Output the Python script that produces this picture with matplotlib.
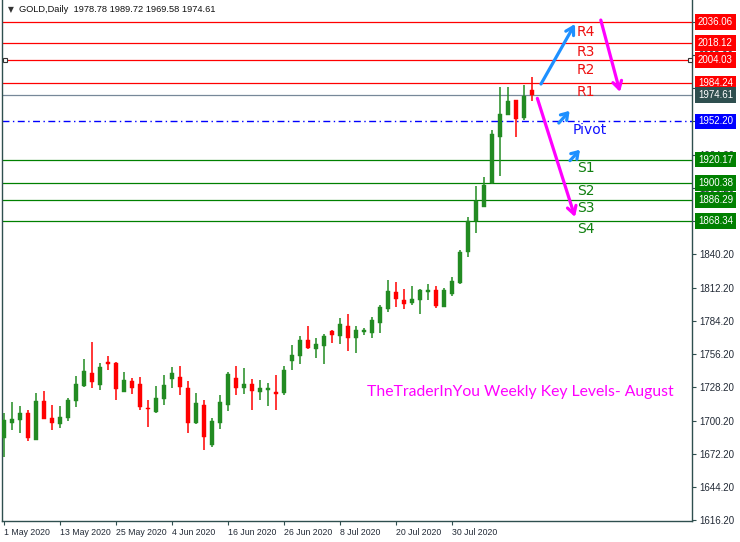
import matplotlib
matplotlib.use("Agg")
import matplotlib.pyplot as plt
import matplotlib.transforms as mtransforms
import numpy as np

# ---------------- data ----------------
opens = [1685.7, 1698.4, 1700.6, 1706.5, 1684.0, 1716.6, 1702.3, 1697.5, 1702.6, 1716.9,
         1729.5, 1740.2, 1730.4, 1749.5, 1748.7, 1724.5, 1733.5, 1731.0, 1711.0, 1707.6,
         1718.3, 1735.2, 1736.8, 1727.6, 1698.1, 1713.3, 1679.5, 1698.1, 1713.3, 1736.0,
         1727.6, 1730.9, 1724.5, 1726.2, 1724.2, 1723.6, 1750.6, 1754.8, 1768.0, 1760.7,
         1763.2, 1775.6, 1771.7, 1779.8, 1770.0, 1775.1, 1774.2, 1782.6, 1794.4, 1808.5,
         1801.7, 1799.5, 1802.0, 1808.8, 1810.2, 1796.1, 1807.1, 1816.4, 1842.0, 1868.0,
         1880.1, 1900.1, 1939.4, 1957.7, 1970.3, 1955.4, 1978.78]
highs = [1706.8, 1715.8, 1712.4, 1709.0, 1723.4, 1725.0, 1713.2, 1712.4, 1719.2, 1737.7,
         1752.0, 1766.1, 1748.7, 1754.5, 1749.5, 1741.1, 1736.0, 1736.9, 1717.5, 1729.3,
         1738.5, 1745.3, 1746.1, 1733.5, 1723.4, 1717.5, 1702.3, 1721.7, 1741.1, 1746.1,
         1744.4, 1735.2, 1734.3, 1731.8, 1738.5, 1746.1, 1763.8, 1771.4, 1779.8, 1769.7,
         1773.1, 1776.5, 1786.6, 1789.9, 1779.8, 1778.1, 1787.4, 1797.5, 1818.6, 1816.9,
         1811.0, 1813.5, 1811.0, 1815.2, 1813.5, 1811.9, 1821.1, 1843.9, 1872.0, 1898.0,
         1905.7, 1945.0, 1981.0, 1981.0, 1970.3, 1983.0, 1989.72]
lows = [1669.7, 1692.2, 1689.9, 1683.2, 1684.0, 1701.7, 1692.5, 1694.1, 1700.0, 1711.9,
        1728.7, 1727.9, 1726.2, 1743.0, 1717.7, 1724.5, 1722.8, 1709.3, 1695.0, 1706.8,
        1713.5, 1727.6, 1722.0, 1689.7, 1697.3, 1675.6, 1677.9, 1693.0, 1708.5, 1722.0,
        1722.8, 1709.0, 1717.7, 1712.7, 1709.3, 1722.0, 1743.0, 1748.1, 1760.5, 1753.1,
        1748.1, 1765.8, 1764.9, 1759.0, 1757.4, 1772.5, 1770.0, 1774.2, 1791.9, 1796.1,
        1794.4, 1797.8, 1790.2, 1802.0, 1795.3, 1796.1, 1805.4, 1815.5, 1838.0, 1858.0,
        1880.1, 1899.2, 1906.5, 1957.7, 1938.9, 1953.7, 1969.58]
closes = [1700.6, 1701.5, 1706.5, 1685.7, 1716.6, 1701.7, 1698.4, 1703.1, 1717.4, 1730.9,
          1741.9, 1732.9, 1745.3, 1747.8, 1727.0, 1734.3, 1727.9, 1711.9, 1710.2, 1719.2,
          1730.1, 1740.2, 1728.7, 1698.1, 1714.9, 1686.3, 1699.8, 1715.8, 1739.4, 1727.9,
          1731.0, 1725.3, 1727.6, 1727.6, 1722.8, 1742.8, 1755.4, 1768.0, 1761.6, 1764.7,
          1771.4, 1772.5, 1781.5, 1770.0, 1776.5, 1776.5, 1784.9, 1795.8, 1809.3, 1802.9,
          1798.7, 1802.6, 1810.2, 1810.2, 1797.0, 1810.2, 1817.8, 1842.2, 1868.0, 1885.0,
          1899.0, 1941.4, 1958.5, 1969.5, 1954.6, 1973.7, 1974.61]

date_labels = ['1 May 2020', '13 May 2020', '25 May 2020', '4 Jun 2020', '16 Jun 2020',
               '26 Jun 2020', '8 Jul 2020', '20 Jul 2020', '30 Jul 2020']
date_label_bars = [0, 7, 14, 21, 28, 35, 42, 49, 56]

level_names = ['R4', 'R3', 'R2', 'R1', 'Pivot', 'S1', 'S2', 'S3', 'S4']
level_values = [2036.06, 2018.12, 2004.03, 1984.24, 1952.20, 1920.17, 1900.38, 1886.29, 1868.34]
bid_price = 1974.61

y_ticks = [1616.2 + 28 * k for k in range(16)]
header = "GOLD,Daily  1978.78 1989.72 1969.58 1974.61"
caption = "TheTraderInYou Weekly Key Levels- August"

# ---------------- style ----------------
GREEN = '#228b22'
RED = '#ff0000'
FRAME = '#2f4f4f'
LVL_COL = {'R': '#ff0000', 'P': '#0000ff', 'S': '#008000'}
TXT_COL = {'R': '#ee1111', 'P': '#1010ff', 'S': '#108010'}
FONT = 'Liberation Sans'

W, H = 740, 542
fig = plt.figure(figsize=(W / 100, H / 100), dpi=100)
fig.patch.set_facecolor('white')
ax = fig.add_axes([2 / W, (H - 521) / H, 690 / W, 521 / H])
ax.set_facecolor('white')
ax.set_xlim(-0.25, 86)
ax.set_ylim(1615.5, 2054.6)

for s in ['left', 'right', 'bottom']:
    ax.spines[s].set_color(FRAME)
    ax.spines[s].set_linewidth(1.0)
ax.spines['top'].set_visible(False)

# level lines
for name, val in zip(level_names, level_values):
    key = name[0]
    if name == 'Pivot':
        ax.axhline(val, color=LVL_COL['P'], lw=1.0, linestyle=(0, (5, 2.5, 1, 2.5)), zorder=1)
    else:
        ax.axhline(val, color=LVL_COL[key], lw=0.9, zorder=1)
ax.axhline(bid_price, color='#778899', lw=0.9, zorder=1)

# small selection squares on R2 line
ax.plot([0.1, 85.8], [level_values[2]] * 2, linestyle='none', marker='s', ms=3.5,
        mfc='white', mec='#333333', mew=0.8, zorder=3, clip_on=False)

# candles
idx = np.arange(len(opens))
o = np.array(opens); h = np.array(highs); l = np.array(lows); c = np.array(closes)
cols = [GREEN if cc >= oo else RED for oo, cc in zip(o, c)]
ax.vlines(idx, l, h, colors=cols, lw=1.1, zorder=4)
body_bot = np.minimum(o, c)
body_h = np.maximum(np.abs(c - o), 0.9)
ax.bar(idx, body_h, bottom=body_bot, width=0.62, color=cols, edgecolor=cols, lw=0.3, zorder=5)

# level names text
name_y = [2027.6, 2010.8, 1995.6, 1977.1, 1945.0, 1913.0, 1893.6, 1879.3, 1861.6]
for name, yy in zip(level_names, name_y):
    key = 'P' if name == 'Pivot' else name[0]
    xx = 71.1 if name == 'Pivot' else 71.6
    ax.text(xx, yy, name, color=TXT_COL[key], fontsize=10, family='DejaVu Sans',
            va='center', ha='left', zorder=6)

# arrows
def arrow(tail, tip, color, lw=2.3, hl=0.55, hw=0.32):
    ax.annotate('', xy=tip, xytext=tail,
                arrowprops=dict(arrowstyle=f'->,head_length={hl},head_width={hw}',
                                color=color, lw=lw, shrinkA=0, shrinkB=0),
                zorder=7)

BLUE_A = '#1e90ff'
MAG = '#ff00ff'
arrow((67.125, 1983.8), (71.375, 2034.4), BLUE_A)
arrow((69.35, 1950.9), (70.7, 1961.2), BLUE_A, hl=0.45, hw=0.3)
arrow((70.75, 1919.2), (72.0, 1928.4), BLUE_A, hl=0.45, hw=0.3)
arrow((66.67, 1971.7), (71.375, 1871.7), MAG)
arrow((74.6, 2037.7), (77.0, 1977.1), MAG)

# caption
ax.text(45.4, 1724.2, caption, color=MAG, fontsize=11.3, family='Lato', va='center', ha='left', zorder=6)

# y axis on right
ax.yaxis.tick_right()
ax.set_yticks(y_ticks)
ax.set_yticklabels([f'{v:.2f}' for v in y_ticks])
ax.tick_params(axis='y', length=3, width=0.8, color=FRAME, pad=2, labelsize=7,
               labelcolor='#222a36', labelfontfamily=FONT)

# x axis
ax.set_xticks(date_label_bars)
ax.set_xticklabels(date_labels)
ax.tick_params(axis='x', length=3, width=0.8, color=FRAME, pad=2, labelsize=6.3,
               labelcolor='#222a36', labelfontfamily=FONT)
for t in ax.get_xticklabels():
    t.set_ha('left')

# level value boxes on right
trans = mtransforms.blended_transform_factory(ax.transAxes, ax.transData)
for name, val in zip(level_names, level_values):
    key = 'P' if name == 'Pivot' else name[0]
    fc = LVL_COL[key]
    ax.text(1.0085, val, f'{val:.2f}', transform=trans, color='white', fontsize=7,
            family=FONT, va='center', ha='left', clip_on=False, zorder=10,
            bbox=dict(boxstyle='square,pad=0.3', fc=fc, ec='none'))
ax.text(1.0085, bid_price, f'{bid_price:.2f}', transform=trans, color='white', fontsize=7,
        family=FONT, va='center', ha='left', clip_on=False, zorder=10,
        bbox=dict(boxstyle='square,pad=0.3', fc='#2f4f4f', ec='none'))

# header
fig.text(8 / W, 1 - 10 / H, '\u25bc', fontsize=5.5, color='#333333', va='center', ha='left',
         family='DejaVu Sans')
fig.text(19 / W, 1 - 10 / H, header, fontsize=6.7, color='#111111', va='center', ha='left',
         family=FONT)

fig.savefig('out.png', dpi=100, facecolor='white')
